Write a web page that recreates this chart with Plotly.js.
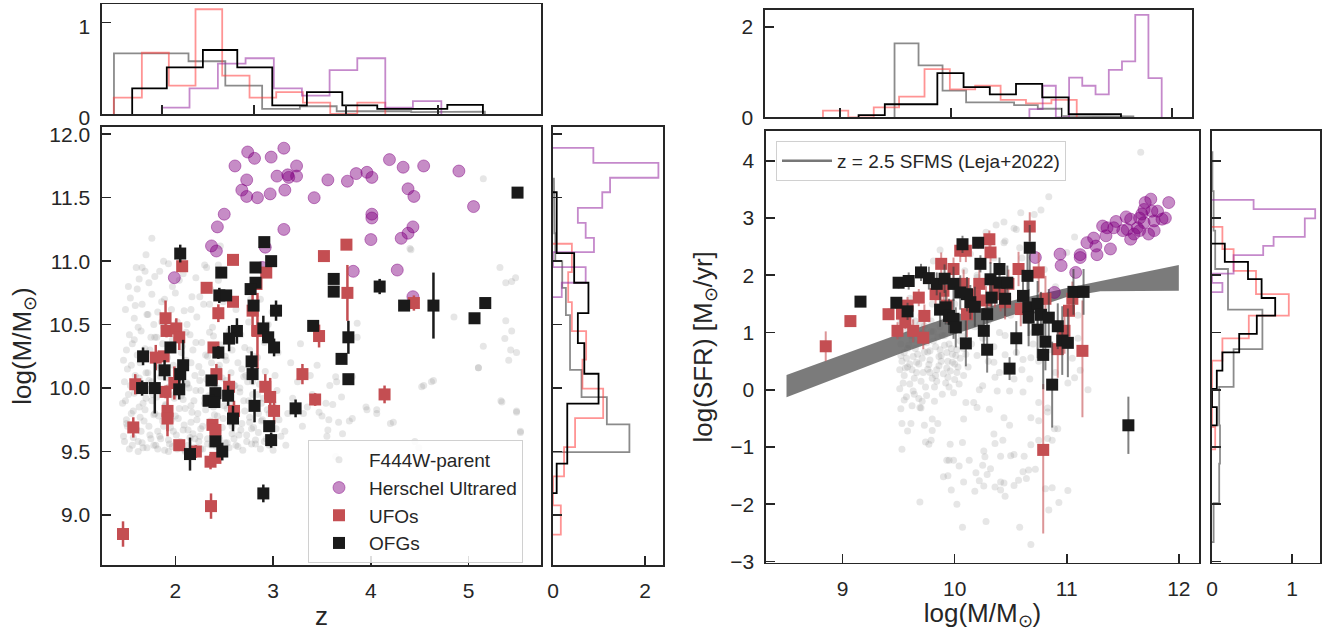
<!DOCTYPE html>
<html><head><meta charset="utf-8">
<script src="https://cdn.plot.ly/plotly-3.0.1.min.js"></script>
<style>html,body{margin:0;padding:0;background:#fff;}#chart{width:1338px;height:631px;}</style>
</head><body><div id="chart"></div>
<script>
// ---------- LEFT PANEL: redshift vs stellar mass ----------
// F444W-parent sample (z, logM)
const parentZ = [
1.47,1.50,1.46,1.52,1.48,1.55,1.50,1.53,1.58,1.49,1.56,1.60,1.57,1.59,1.47,1.54,1.58,1.51,
1.62,1.65,1.68,1.63,1.70,1.66,1.72,1.64,1.69,1.75,1.62,1.71,1.66,1.76,1.63,1.78,1.74,1.79,1.77,1.73,1.80,1.78,1.69,1.73,1.61,1.67,1.76,
1.82,1.85,1.88,1.83,1.90,1.86,1.93,1.84,1.91,1.87,1.95,1.82,1.89,1.97,1.84,1.94,1.98,1.96,1.99,1.92,1.98,1.96,1.81,1.88,1.93,1.86,
2.02,2.05,2.08,2.03,2.10,2.06,2.12,2.04,2.11,2.07,2.15,2.02,2.09,2.17,2.13,2.18,2.16,2.19,2.14,2.20,2.18,2.12,2.04,2.20,2.10,
2.22,2.25,2.28,2.23,2.30,2.26,2.32,2.24,2.31,2.27,2.35,2.22,2.29,2.36,2.33,2.38,2.36,2.39,2.34,2.40,2.37,2.21,2.30,2.38,2.26,
2.42,2.45,2.48,2.43,2.50,2.46,2.52,2.44,2.51,2.47,2.55,2.42,2.49,2.53,2.58,2.56,2.59,2.54,2.60,2.57,2.58,2.44,2.50,
2.62,2.65,2.68,2.63,2.70,2.66,2.72,2.64,2.71,2.67,2.75,2.73,2.78,2.76,2.79,2.74,2.80,2.62,2.77,
2.82,2.85,2.88,2.83,2.90,2.86,2.92,2.84,2.91,2.95,2.93,2.98,2.96,3.00,3.04,3.02,3.06,3.08,2.99,3.05,2.87,
3.12,3.15,3.20,3.25,3.30,3.35,3.40,3.45,3.50,3.55,3.18,3.28,3.38,3.58,3.13,
5.32,5.38,5.44,5.48,4.85,5.38,5.44,5.37,5.43,5.49,5.41,5.15,5.10,4.62,4.52,5.33,5.49,5.53,4.23,3.95,
4.06,3.86,3.86,3.81,3.64,3.81,3.65,3.54,3.61,3.70,3.57,3.67,3.56,3.71,3.47,3.31,4.40,4.45,5.15,4.41,
1.76,2.46,2.32,2.44,1.70,1.60,5.10,4.64,4.54,3.96,4.06,4.20,3.78,4.49,3.64,5.34,5.49,5.53,
1.48,1.53,1.57,1.62,1.66,1.71,1.75,1.80,1.84,1.89,1.93,1.97,2.01,2.06,2.10,2.15,2.19,2.24,2.28,2.33,2.37,2.42,2.46,2.51,2.55,2.60,2.64,2.69,2.73,2.78,2.82,2.87,2.91,2.96,3.00,
1.50,1.55,1.60,1.64,1.69,1.73,1.78,1.82,1.87,1.91,1.95,2.00,2.04,2.09,2.13,2.17,2.22,2.26,2.31,2.35,2.40,2.44,2.49,2.53,2.58,2.62,2.67,2.71,2.76,2.80,2.85,2.89,2.94,2.98,3.03,
1.49,1.54,1.58,1.63,1.67,1.72,1.76,1.81,1.85,1.90,1.94,1.99,2.03,2.08,2.12,2.16,2.21,2.25,2.30,2.34,2.39,2.43,2.48,2.52,2.57,2.61,2.66,2.70,2.75,2.79,2.84,2.88,2.93,2.97,
1.51,1.56,1.61,1.65,1.70,1.74,1.79,1.83,1.88,1.92,1.97,2.01,2.06,2.11,2.16,2.21,2.27,2.33,2.39,2.45,2.52,2.60,2.68,2.76,
1.52,1.59,1.66,1.72,1.79,1.86,1.93,2.00,2.08,2.16,2.25,2.35];
const parentM = [
9.62,9.75,9.88,9.95,10.05,10.18,10.30,10.42,10.55,10.62,9.55,9.68,9.82,10.10,10.22,10.71,10.38,9.70,
9.58,9.66,9.74,9.85,9.92,10.02,10.12,10.20,10.31,10.40,10.48,10.58,10.66,10.74,10.86,9.55,9.63,9.80,9.95,10.06,10.22,10.50,10.92,10.83,10.78,9.53,9.90,
9.52,9.60,9.70,9.78,9.86,9.97,10.08,10.16,10.27,10.35,10.46,10.60,10.70,10.80,10.92,9.56,9.66,9.75,9.92,10.00,10.18,10.62,10.40,11.00,9.50,10.52,
9.52,9.58,9.67,9.76,9.84,9.94,10.04,10.13,10.22,10.33,10.42,10.52,10.61,10.72,9.55,9.64,9.73,9.90,10.00,10.10,10.30,10.50,10.85,9.60,9.51,
9.53,9.62,9.70,9.80,9.88,9.98,10.07,10.17,10.26,10.36,10.44,10.56,10.66,10.78,9.56,9.65,9.74,9.85,9.94,10.03,10.20,10.87,10.97,10.48,9.52,
9.54,9.60,9.69,9.78,9.86,9.96,10.06,10.15,10.25,10.34,10.45,10.58,10.68,9.57,9.64,9.73,9.83,9.93,10.02,10.12,10.30,10.85,9.52,
9.55,9.63,9.72,9.81,9.90,10.00,10.10,10.20,10.32,10.42,10.52,9.58,9.68,9.77,9.95,10.05,10.25,10.62,10.70,
9.56,9.65,9.74,9.84,9.92,10.03,10.13,10.24,10.36,10.50,9.60,9.70,9.80,9.88,9.98,10.10,9.75,9.62,10.60,10.28,10.70,
9.66,9.80,9.92,10.05,9.70,9.85,9.95,10.18,9.78,9.62,10.20,10.35,10.10,10.02,9.55,
10.95,10.83,10.84,10.87,10.56,10.53,10.45,10.39,10.30,10.28,10.22,10.33,10.16,10.05,10.01,9.90,9.82,9.65,9.73,9.85,
9.83,10.51,10.40,9.76,10.09,10.09,10.05,9.88,9.87,9.93,9.75,9.73,9.67,9.64,9.81,9.80,11.10,9.58,11.65,11.09,
11.18,11.12,10.95,10.97,11.05,10.95,10.16,10.06,10.02,9.83,9.80,9.72,9.74,9.53,9.46,9.89,9.81,9.66,
9.58,9.52,9.61,9.50,9.57,9.53,9.60,9.55,9.62,9.51,9.59,9.54,9.63,9.56,9.50,9.61,9.53,9.58,9.52,9.60,9.55,9.62,9.50,9.57,9.53,9.60,9.54,9.51,9.63,9.56,9.59,9.52,9.58,9.55,9.51,
9.72,9.80,9.68,9.77,9.83,9.70,9.79,9.66,9.74,9.82,9.69,9.78,9.84,9.71,9.67,9.81,9.75,9.68,9.83,9.72,9.79,9.66,9.76,9.84,9.70,9.78,9.67,9.82,9.73,9.69,9.80,9.75,9.83,9.71,9.68,
9.90,10.02,9.96,10.08,9.88,9.99,10.05,9.93,10.09,9.87,10.01,9.95,10.07,9.91,10.03,9.86,9.98,10.06,9.92,10.04,9.89,10.00,10.08,9.94,9.87,10.02,9.97,10.09,9.90,10.05,9.95,9.88,10.01,9.93,
10.15,10.35,10.26,10.45,10.12,10.30,10.40,10.18,10.48,10.24,10.38,10.14,10.28,10.44,10.20,10.36,10.12,10.25,10.41,10.18,10.22,10.38,10.15,10.30,
10.80,10.65,10.95,10.58,10.88,10.68,10.98,10.75,10.90,10.62,10.72,10.66];

// Herschel ultrared: [z, logM]
const herschelLeft = [
[2.74,11.86],[2.81,11.81],[2.98,11.82],[3.11,11.89],[2.61,11.75],[3.24,11.75],[2.73,11.64],[3.04,11.67],
[3.15,11.68],[3.16,11.66],[3.24,11.67],[2.68,11.56],[2.73,11.51],[2.84,11.50],[2.97,11.53],[3.12,11.56],
[3.42,11.50],[3.56,11.64],[3.76,11.63],[3.85,11.69],[3.96,11.70],[4.01,11.66],[4.19,11.80],[4.33,11.74],
[4.54,11.75],[4.90,11.71],[4.38,11.57],[4.44,11.51],[5.05,11.43],[4.01,11.37],[4.01,11.34],[2.50,11.37],
[2.43,11.27],[3.11,11.25],[2.37,11.12],[2.42,11.08],[4.43,11.27],[4.38,11.22],[4.31,11.18],[4.00,11.17],
[1.99,10.87],[2.92,11.11],[2.89,10.95],[3.82,10.92],[4.27,10.93],[4.43,10.72]];

// UFOs: [z, logM, err]
const ufoLeft = [
[2.07,10.96,0.03],[2.59,11.01,0.03],[2.32,10.79,0.03],[2.59,10.68,0.03],[2.44,10.59,0.07],[1.90,10.55,0.14],
[1.91,10.45,0.05],[2.01,10.47,0.08],[2.04,10.40,0.10],[1.80,10.24,0.10],[1.88,10.25,0.03],[1.59,10.03,0.08],
[1.90,9.97,0.05],[1.99,10.04,0.13],[1.92,9.82,0.20],[1.92,9.76,0.10],[1.57,9.69,0.08],[2.04,9.55,0.03],
[2.21,9.50,0.05],[2.39,10.32,0.03],[2.42,10.11,0.08],[2.55,10.01,0.10],[2.38,9.71,0.03],[2.41,9.67,0.03],
[2.36,9.42,0.06],[2.41,9.45,0.03],[2.60,9.82,0.08],[2.79,10.61,0.20],[2.93,10.91,0.03],[2.83,10.82,0.03],
[2.92,10.01,0.10],[2.97,9.93,0.15],[3.01,9.82,0.10],[2.84,10.45,0.30],[3.75,11.13,0.03],[3.52,11.04,0.03],
[3.76,10.75,0.22],[3.47,10.41,0.09],[3.30,10.11,0.08],[3.43,9.91,0.05],[4.14,9.95,0.07],[4.44,10.67,0.06],
[1.465,8.85,0.10],[2.365,9.07,0.10]];

// OFGs: [z, logM, err]
const ofgLeft = [
[2.05,11.06,0.07],[2.91,11.15,0.03],[2.98,11.00,0.03],[2.82,10.95,0.03],[2.47,10.91,0.03],[2.82,10.83,0.03],
[2.77,10.78,0.03],[2.45,10.73,0.06],[2.52,10.73,0.03],[2.80,10.65,0.03],[3.03,10.61,0.08],[2.63,10.45,0.10],
[2.55,10.39,0.10],[2.90,10.47,0.10],[2.95,10.40,0.03],[3.01,10.32,0.07],[1.95,10.32,0.04],[2.44,10.28,0.05],
[1.67,10.25,0.07],[2.08,10.18,0.20],[1.89,10.14,0.08],[2.05,10.11,0.05],[2.78,10.21,0.08],[2.79,10.11,0.08],
[2.37,10.06,0.03],[1.66,10.00,0.06],[1.79,10.00,0.20],[2.04,9.99,0.08],[2.41,9.96,0.03],[2.34,9.90,0.03],
[2.40,9.89,0.03],[2.54,9.94,0.08],[2.81,9.86,0.13],[3.23,9.84,0.07],[2.59,9.76,0.10],[2.96,9.70,0.03],
[2.98,9.59,0.06],[2.41,9.58,0.03],[2.48,9.50,0.07],[2.15,9.48,0.13],[3.62,10.86,0.03],[3.62,10.76,0.03],
[4.09,10.80,0.06],[4.34,10.65,0.03],[4.64,10.65,0.26],[5.06,10.55,0.03],[5.17,10.67,0.03],[3.41,10.49,0.03],
[3.77,10.40,0.13],[3.70,10.23,0.03],[3.77,10.07,0.03],[5.50,11.54,0.03],[2.90,9.17,0.07]];

// ---------- RIGHT PANEL: stellar mass vs SFR ----------
const parentRight = [
[9.52,-0.33],[9.53,-0.59],[9.61,-0.59],[9.58,-0.72],[9.53,-1.04],[9.73,-0.62],[9.80,-0.71],[9.85,-0.59],[9.80,-0.51],[9.69,-0.31],
[9.74,-0.91],[9.77,-0.95],[9.96,-0.95],[10.07,-0.92],[9.93,-1.23],[9.99,-1.23],[10.04,-1.33],[10.13,-1.23],[10.19,-1.45],[10.25,-1.32],
[10.32,-1.38],[10.29,-1.48],[9.90,-1.52],[9.94,-1.50],[10.08,-1.61],[9.97,-1.75],[10.18,-1.77],[10.22,-1.59],[10.26,-1.68],[10.36,-1.70],
[10.41,-1.61],[10.44,-1.63],[10.41,-1.75],[10.45,-1.86],[10.53,-1.67],[10.57,-1.58],[10.61,-1.43],[10.66,-1.40],[10.72,-1.39],[10.64,-1.55],
[10.81,-1.73],[10.87,-1.71],[11.01,-1.76],[10.93,-1.97],[10.84,-2.10],[10.02,-2.00],[9.69,-1.96],[10.07,-2.40],[10.28,-2.30],[10.58,-2.40],
[10.68,-2.70],[10.35,-0.77],[10.43,-0.88],[10.36,-0.94],[10.26,-1.07],[10.27,-1.17],[10.41,-1.16],[10.50,-1.15],[10.53,-1.13],[10.62,-1.16],
[10.68,-0.96],[10.75,-0.88],[10.83,-0.85],[10.87,-0.88],[10.92,-0.68],[10.89,-0.68],[10.68,-0.49],[10.75,-0.54],[10.83,-0.39],[10.75,-0.22],
[10.83,-0.32],[10.49,-0.62],[10.44,-0.49],[10.31,-0.34],[10.20,-0.31],[10.17,-0.22],[10.10,-0.22],[9.99,-0.05],[10.08,-0.51],[10.22,0.00],
[10.25,0.07],[10.38,-0.02],[10.49,-0.02],[10.61,-0.04],[11.12,0.34],[11.19,0.00],[11.01,0.12],[11.07,0.21],[10.53,0.19],[10.67,0.19],
[10.35,0.48],[10.36,0.22],[10.45,0.61],[10.68,0.56],[10.61,0.53],[9.70,-0.32],[9.79,-0.88],[9.95,-1.23],
[9.50,0.95],[9.52,0.80],[9.55,0.65],[9.53,0.50],[9.58,0.40],[9.55,0.25],[9.60,0.10],[9.62,0.88],[9.65,0.72],[9.63,0.58],
[9.68,0.45],[9.66,0.30],[9.70,0.15],[9.72,1.00],[9.75,0.82],[9.73,0.66],[9.78,0.52],[9.76,0.36],[9.80,0.20],[9.82,0.05],
[9.85,0.92],[9.83,0.75],[9.88,0.60],[9.86,0.42],[9.90,0.28],[9.92,0.12],[9.95,0.80],[9.93,0.65],[9.98,0.48],[9.96,0.33],
[10.00,0.18],[10.02,0.70],[10.05,0.55],[10.03,0.40],[10.08,0.25],[10.10,0.62],[9.51,0.02],[9.57,-0.12],[9.64,-0.08],[9.71,-0.20],
[9.60,1.10],[9.69,1.15],[9.79,1.20],[9.87,1.10],[9.52,1.20],[9.58,0.72],[9.74,0.90],[9.91,0.95],[9.97,1.05],[10.06,0.95],
[9.62,0.35],[9.78,0.68],[9.84,0.35],[9.94,0.50],[10.12,0.40],[10.15,0.80],[10.20,0.60],[10.25,0.90],[10.30,0.50],[10.18,1.10],
[10.35,0.75],[10.40,0.30],[10.45,0.95],[10.55,0.65],[10.60,0.35],[10.70,0.80],[10.75,0.50],[10.85,0.70],[10.90,0.30],[10.95,0.90],
[11.05,0.55],[11.10,0.90],
[10.84,3.37],[10.77,3.14],[10.71,3.06],[10.59,3.09],[10.53,2.82],[10.44,2.93],[10.37,2.88],[10.28,2.75],[10.44,2.57],[10.58,2.48],
[11.07,2.67],[9.87,2.44],[9.81,2.25],[10.14,2.37],[10.09,2.08],[10.20,1.96],[11.66,4.15],[10.20,2.00],[10.30,1.20],[10.50,1.30],
[10.60,2.30],[10.70,1.00],[10.80,2.10],[10.90,1.80],[11.00,2.40],[11.10,1.30],[10.40,1.00],[10.00,1.50],[9.90,1.20],[9.80,1.50],
[9.70,1.30],[9.60,1.60],[10.45,2.60],[10.55,2.80],[10.35,2.30],
[9.54,0.12],[9.57,0.55],[9.61,0.95],[9.64,0.20],[9.67,0.62],[9.70,0.98],[9.74,0.05],[9.77,0.44],[9.81,0.85],[9.84,0.15],
[9.88,0.50],[9.91,0.78],[9.95,0.05],[9.98,0.62],[10.02,0.30],[10.05,0.85],[9.56,0.38],[9.59,0.78],[9.63,-0.02],[9.66,0.48],
[9.69,0.82],[9.72,0.30],[9.76,0.66],[9.79,1.02],[9.83,0.25],[9.86,0.58],[9.89,0.95],[9.93,0.38],[9.97,0.72],[10.00,0.45],
[10.04,0.10],[10.08,0.72],[9.55,-0.18],[9.62,-0.28],[9.68,-0.15],[9.75,-0.10],[9.82,-0.20],[9.89,-0.08],[9.58,1.05],[9.65,1.20],
[9.73,1.12],[9.81,1.02],[9.52,0.60],[9.51,0.35],[9.60,0.45],[9.71,0.55],[9.78,0.30],[9.87,0.70],[9.94,0.22],[10.01,0.60]];

const herschelRight = [
[10.94,2.37],[10.95,2.17],[10.72,2.31],[10.89,1.70],[11.08,2.05],[11.12,2.36],[11.12,2.31],[11.18,2.57],
[11.26,2.51],[11.27,2.36],[11.24,2.65],[11.32,2.86],[11.36,2.83],[11.39,2.46],[11.44,2.94],[11.53,3.02],
[11.54,2.80],[11.57,2.63],[11.60,2.72],[11.63,2.83],[11.65,3.00],[11.67,3.07],[11.69,2.92],[11.70,3.27],
[11.75,3.33],[11.76,3.12],[11.78,2.95],[11.81,3.12],[11.85,2.98],[11.88,3.00],[11.91,3.27],[11.73,2.72],
[11.65,2.78],[11.57,2.98],[11.50,2.78],[11.69,3.15],[11.78,2.78],[11.42,2.83],[11.35,2.69]];

// UFOs: [logM, logSFR, err+, err-]
const ufoRight = [
[8.85,0.76,0.26,0.26],[9.07,1.20,0.05,0.05],[9.41,1.32,0.10,0.10],[9.49,1.03,0.15,0.15],[9.56,1.18,0.12,0.12],
[9.58,1.47,0.15,0.15],[9.68,1.61,0.15,0.15],[9.73,1.29,0.20,0.20],[9.72,0.91,0.20,0.20],[9.88,2.20,0.20,0.20],
[9.83,1.67,0.20,0.20],[9.90,1.73,0.25,0.25],[9.99,2.11,0.20,0.20],[9.93,1.47,0.30,0.30],[10.05,2.43,0.20,0.20],
[10.10,2.43,0.20,0.20],[10.08,1.85,0.25,0.25],[10.11,1.32,0.40,0.40],[10.31,2.63,0.15,0.15],[10.32,2.40,0.20,0.20],
[10.28,1.56,0.25,0.25],[10.41,1.67,0.30,0.30],[10.48,1.85,0.25,0.25],[10.45,1.53,0.30,0.30],[10.57,2.11,0.30,0.30],
[10.67,2.85,0.25,0.25],[10.75,2.05,0.35,0.35],[10.59,1.41,0.30,0.30],[10.81,1.59,0.40,0.40],[10.92,0.71,0.50,0.50],
[10.98,1.03,0.40,0.40],[11.02,1.38,0.30,0.30],[11.05,1.59,0.30,0.30],[11.14,0.68,0.88,1.16],[10.79,-1.05,1.15,1.46],
[10.18,1.65,0.30,0.30],[10.36,1.74,0.30,0.30],[10.22,1.85,0.25,0.25],[9.53,1.33,0.15,0.15],[9.63,1.03,0.20,0.20]];

// OFGs: [logM, logSFR, err]
const ofgRight = [
[9.16,1.54,0.05],[9.50,1.87,0.10],[9.59,1.90,0.15],[9.48,1.52,0.10],[9.58,1.37,0.15],[9.70,2.05,0.15],
[9.77,1.95,0.20],[9.84,1.85,0.20],[9.91,1.94,0.25],[9.99,1.85,0.30],[9.87,1.40,0.30],[9.92,1.44,0.30],
[9.95,1.29,0.30],[9.99,1.24,0.35],[10.01,1.09,0.35],[10.07,2.54,0.15],[10.21,2.57,0.10],[10.23,2.20,0.15],
[10.05,1.70,0.30],[10.11,1.67,0.30],[10.14,1.53,0.30],[10.18,1.45,0.35],[10.29,1.32,0.30],[10.26,1.03,0.40],
[10.10,0.81,0.40],[10.29,0.70,0.40],[10.40,2.11,0.20],[10.32,1.93,0.30],[10.40,1.87,0.30],[10.47,1.87,0.30],
[10.33,1.61,0.30],[10.45,1.59,0.30],[10.67,2.48,0.40],[10.65,1.99,0.50],[10.61,1.64,0.30],[10.66,1.44,0.50],
[10.66,1.26,0.50],[10.74,1.50,0.40],[10.77,1.31,0.40],[10.84,1.26,0.50],[10.74,1.05,0.50],[10.92,1.11,0.40],
[10.55,0.90,0.30],[10.81,0.84,0.50],[10.96,0.86,0.60],[11.01,0.82,0.60],[10.79,0.61,0.60],[10.49,0.37,0.20],
[10.87,0.09,0.75],[11.06,1.71,0.40],[11.15,1.71,0.40],[11.55,-0.62,0.50]];

// z = 2.5 star-forming main sequence band (Leja+2022)
const sfmsMass = [8.5, 9.0, 9.5, 10.0, 10.5, 11.0, 11.3, 11.5, 12.0];
const sfmsHi   = [0.26, 0.61, 0.97, 1.30, 1.55, 1.78, 1.90, 1.98, 2.18];
const sfmsLo   = [-0.13, 0.24, 0.62, 0.97, 1.30, 1.62, 1.72, 1.72, 1.73];

// ---------- Histograms (bin edges, normalized heights) ----------
const hzParEdges = [1.48,1.88,2.29,2.69,3.09,3.50,3.90,4.30,4.71,5.11,5.51];
const hzPar      = [0.664,0.664,0.577,0.31,0.055,0.085,0.03,0.03,0.02,0.025];
const hzUfoEdges = [1.478,1.783,2.076,2.366,2.656,2.953,3.243,3.533,3.830,4.124,4.428];
const hzUfo      = [0.18,0.67,0.31,1.146,0.42,0.18,0.24,0.124,0,0.124];
const hzOfgEdges = [1.678,2.054,2.446,2.820,3.200,3.576,3.961,4.341,4.728,5.102,5.489];
const hzOfg      = [0.28,0.51,0.70,0.51,0.095,0.24,0.095,0.055,0.055,0.10];
const hzHerEdges = [2.000,2.301,2.609,2.910,3.217,3.522,3.823,4.124,4.428,4.728,5.037];
const hzHer      = [0.07,0.28,0.55,0.61,0.28,0.20,0.48,0.61,0.07,0.14];

const hmParEdges = [9.496,9.714,9.929,10.144,10.36,10.575,10.79,11.0,11.22,11.44,11.65];
const hmPar      = [1.66,1.17,0.62,0.37,0.37,0.28,0.20,0.05,0.03,0.02];
const hmUfoEdges = [8.846,9.076,9.305,9.535,9.764,9.995,10.224,10.449,10.677,10.913,11.137];
const hmUfo      = [0.17,0,0.24,0.48,1.09,0.64,0.72,0.41,0.33,0.41];
const hmOfgEdges = [9.173,9.405,9.641,9.877,10.113,10.354,10.591,10.830,11.063,11.299,11.543];
const hmOfg      = [0.08,0.31,0.31,0.99,0.68,0.54,0.77,0.46,0.08,0.08];
const hmHerEdges = [10.717,10.830,10.953,11.071,11.184,11.302,11.420,11.543,11.657,11.775,11.893];
const hmHer      = [0.19,0.71,0,0.89,0.71,0.54,1.07,1.24,2.29,0.877];

const hMParEdges = [9.491,9.708,9.925,10.138,10.355,10.572,10.786,11.003,11.219,11.433,11.650];
const hMPar      = [1.64,1.15,0.59,0.33,0.33,0.27,0.19,0.03,0.02,0.02];
const hMUfoEdges = [8.844,9.073,9.303,9.532,9.762,9.991,10.220,10.450,10.679,10.909,11.138];
const hMUfo      = [0.15,0,0.22,0.46,1.07,0.62,0.70,0.385,0.31,0.385];
const hMOfgEdges = [9.166,9.403,9.640,9.878,10.115,10.352,10.589,10.826,11.064,11.301,11.538];
const hMOfg      = [0.05,0.29,0.29,0.98,0.67,0.51,0.74,0.44,0.07,0.07];
const hMHerEdges = [10.710,10.830,10.949,11.069,11.188,11.308,11.428,11.547,11.667,11.786,11.906];
const hMHer      = [0.18,0.70,0,0.88,0.70,0.51,1.05,1.24,2.27,0.87];

const hSParEdges = [-2.66,-1.98,-1.29,-0.62,0.05,0.71,1.40,2.11,2.78,3.47,4.15];
const hSPar      = [0.02,0.09,0.10,0.09,0.27,0.63,0.20,0.04,0.02,0.005];
const hSUfoEdges = [-1.04,-0.65,-0.27,0.12,0.510,0.899,1.294,1.672,2.078,2.456,2.845];
const hSUfo      = [0.04,0,0,0,0.13,0.46,0.96,0.55,0.27,0.13];
const hSOfgEdges = [-0.622,-0.303,0.017,0.336,0.655,0.976,1.294,1.603,1.934,2.235,2.554];
const hSOfg      = [0.06,0,0.06,0.13,0.34,0.56,0.79,0.62,0.45,0.16];
const hSHerEdges = [1.707,1.868,2.029,2.190,2.351,2.512,2.672,2.833,2.994,3.155,3.316];
const hSHer      = [0.13,0,0.27,0.27,0.64,0.77,1.16,1.16,1.29,0.52];

// ---------- styling ----------
const FONT = 'Liberation Sans, Arial, sans-serif';
const INK = '#262626';
const C_PAR = 'rgba(128,128,128,0.2)';
const C_HER = 'rgba(128,0,128,0.45)';
const C_UFO = '#c44e52';
const C_OFG = '#1a1a1a';
const H_PAR = 'rgba(110,110,110,0.8)';
const H_UFO = 'rgba(255,60,60,0.55)';
const H_HER = 'rgba(150,40,160,0.55)';
const H_OFG = '#000000';

function outline(edges, h){
  const a=[edges[0]], b=[0];
  for(let i=0;i<h.length;i++){ a.push(edges[i], edges[i+1]); b.push(h[i], h[i]); }
  a.push(edges[edges.length-1]); b.push(0);
  return [a,b];
}
function histX(edges,h,color,xa,ya){ const [a,b]=outline(edges,h);
  return {x:a,y:b,xaxis:xa,yaxis:ya,mode:'lines',line:{color:color,width:1.8},showlegend:false,hoverinfo:'skip'}; }
function histY(edges,h,color,xa,ya){ const [a,b]=outline(edges,h);
  return {x:b,y:a,xaxis:xa,yaxis:ya,mode:'lines',line:{color:color,width:1.8},showlegend:false,hoverinfo:'skip'}; }
const col=(arr,i)=>arr.map(r=>r[i]);

const traces = [];
// left main
traces.push({x:parentZ,y:parentM,xaxis:'x',yaxis:'y',mode:'markers',name:'F444W-parent',
  marker:{color:C_PAR,size:7,line:{width:0}},hoverinfo:'skip',legend:'legend'});
traces.push({x:col(herschelLeft,0),y:col(herschelLeft,1),xaxis:'x',yaxis:'y',mode:'markers',name:'Herschel Ultrared',
  marker:{color:C_HER,size:12,line:{width:1,color:C_HER}},hoverinfo:'skip',legend:'legend'});
traces.push({x:col(ufoLeft,0),y:col(ufoLeft,1),xaxis:'x',yaxis:'y',mode:'markers',name:'UFOs',
  error_y:{type:'data',array:col(ufoLeft,2),visible:true,color:C_UFO,thickness:2.5,width:0},
  marker:{color:C_UFO,symbol:'square',size:12,line:{width:0}},hoverinfo:'skip',legend:'legend'});
traces.push({x:col(ofgLeft,0),y:col(ofgLeft,1),xaxis:'x',yaxis:'y',mode:'markers',name:'OFGs',
  error_y:{type:'data',array:col(ofgLeft,2),visible:true,color:C_OFG,thickness:2.5,width:0},
  marker:{color:C_OFG,symbol:'square',size:12,line:{width:0}},hoverinfo:'skip',legend:'legend'});
// left top hist
traces.push(histX(hzParEdges,hzPar,H_PAR,'x2','y2'));
traces.push(histX(hzUfoEdges,hzUfo,H_UFO,'x2','y2'));
traces.push(histX(hzHerEdges,hzHer,H_HER,'x2','y2'));
traces.push(histX(hzOfgEdges,hzOfg,H_OFG,'x2','y2'));
// left right hist
traces.push(histY(hmParEdges,hmPar,H_PAR,'x3','y3'));
traces.push(histY(hmUfoEdges,hmUfo,H_UFO,'x3','y3'));
traces.push(histY(hmHerEdges,hmHer,H_HER,'x3','y3'));
traces.push(histY(hmOfgEdges,hmOfg,H_OFG,'x3','y3'));
// right main
traces.push({x:col(parentRight,0),y:col(parentRight,1),xaxis:'x4',yaxis:'y4',mode:'markers',showlegend:false,
  marker:{color:C_PAR,size:7,line:{width:0}},hoverinfo:'skip'});
traces.push({x:sfmsMass.concat(sfmsMass.slice().reverse()),y:sfmsHi.concat(sfmsLo.slice().reverse()),
  xaxis:'x4',yaxis:'y4',mode:'lines',fill:'toself',fillcolor:'rgba(100,100,100,0.85)',line:{width:0,color:'rgba(0,0,0,0)'},
  showlegend:false,hoverinfo:'skip'});
traces.push({x:[null],y:[null],xaxis:'x4',yaxis:'y4',mode:'lines',name:'z = 2.5 SFMS (Leja+2022)',
  line:{color:'#777777',width:2.5},legend:'legend2',hoverinfo:'skip'});
traces.push({x:col(herschelRight,0),y:col(herschelRight,1),xaxis:'x4',yaxis:'y4',mode:'markers',showlegend:false,
  marker:{color:C_HER,size:12,line:{width:1,color:C_HER}},hoverinfo:'skip'});
traces.push({x:col(ufoRight,0),y:col(ufoRight,1),xaxis:'x4',yaxis:'y4',mode:'markers',showlegend:false,
  error_y:{type:'data',symmetric:false,array:col(ufoRight,2),arrayminus:col(ufoRight,3),visible:true,color:'rgba(196,78,82,0.6)',thickness:2,width:0},
  marker:{color:C_UFO,symbol:'square',size:12,line:{width:0}},hoverinfo:'skip'});
traces.push({x:col(ofgRight,0),y:col(ofgRight,1),xaxis:'x4',yaxis:'y4',mode:'markers',showlegend:false,
  error_y:{type:'data',array:col(ofgRight,2),visible:true,color:'rgba(60,60,60,0.65)',thickness:2,width:0},
  marker:{color:C_OFG,symbol:'square',size:12,line:{width:0}},hoverinfo:'skip'});
// right top hist
traces.push(histX(hMParEdges,hMPar,H_PAR,'x5','y5'));
traces.push(histX(hMUfoEdges,hMUfo,H_UFO,'x5','y5'));
traces.push(histX(hMHerEdges,hMHer,H_HER,'x5','y5'));
traces.push(histX(hMOfgEdges,hMOfg,H_OFG,'x5','y5'));
// right right hist
traces.push(histY(hSParEdges,hSPar,H_PAR,'x6','y6'));
traces.push(histY(hSUfoEdges,hSUfo,H_UFO,'x6','y6'));
traces.push(histY(hSHerEdges,hSHer,H_HER,'x6','y6'));
traces.push(histY(hSOfgEdges,hSOfg,H_OFG,'x6','y6'));

function ax(extra){
  return Object.assign({showline:true,linecolor:INK,linewidth:1.6,mirror:true,ticks:'inside',ticklen:9,tickwidth:1.6,
    tickcolor:INK,showgrid:false,zeroline:false,automargin:false,ticklabelstandoff:6,
    tickfont:{family:FONT,size:21,color:INK}},extra);
}
const TF = {family:FONT,size:26,color:INK};
const Wp=1338, Hp=631;
const dx=(a,b)=>[a/Wp,b/Wp], dy=(top,bot)=>[1-bot/Hp,1-top/Hp];

const layout = {
  width:Wp,height:Hp,margin:{l:0,r:0,t:0,b:0},paper_bgcolor:'#fff',plot_bgcolor:'rgba(0,0,0,0)',
  font:{family:FONT,color:INK},
  xaxis: ax({domain:dx(102,541),range:[1.25,5.74],anchor:'y',tickvals:[2,3,4,5],title:{text:'z',font:TF,standoff:6}}),
  yaxis: ax({domain:dy(127,565),range:[8.606,12.057],anchor:'x',tickvals:[9,9.5,10,10.5,11,11.5,12],tickformat:'.1f',
          title:{text:'log(M/M<sub>⊙</sub>)',font:TF,standoff:10}}),
  xaxis2: ax({domain:dx(102,541),range:[1.35,6.12],anchor:'y2',tickvals:[2,3,4,5],showticklabels:false}),
  yaxis2: ax({domain:dy(4.3,114),range:[0,1.2],anchor:'x2',tickvals:[0,1],ticklabelshift:4}),
  xaxis3: ax({domain:dx(553,663),range:[0,2.39],anchor:'y3',tickvals:[0,2]}),
  yaxis3: ax({domain:dy(127,565),range:[8.606,12.057],anchor:'x3',tickvals:[9,9.5,10,10.5,11,11.5,12],showticklabels:false}),
  xaxis4: ax({domain:dx(766,1199),range:[8.317,12.18],anchor:'y4',tickvals:[9,10,11,12],
          title:{text:'log(M/M<sub>⊙</sub>)',font:TF,standoff:8}}),
  yaxis4: ax({domain:dy(131,562.7),range:[-3.02,4.52],anchor:'x4',tickvals:[-3,-2,-1,0,1,2,3,4],
          title:{text:'log(SFR) [M<sub>⊙</sub>/yr]',font:TF,standoff:10}}),
  xaxis5: ax({domain:dx(765,1192),range:[8.32,12.18],anchor:'y5',tickvals:[9,10,11,12],showticklabels:false}),
  yaxis5: ax({domain:dy(10,117.3),range:[0,2.38],anchor:'x5',tickvals:[0,2]}),
  xaxis6: ax({domain:dx(1212,1320),range:[0,1.35],anchor:'y6',tickvals:[0,1]}),
  yaxis6: ax({domain:dy(131,562.7),range:[-3.02,4.52],anchor:'x6',tickvals:[-3,-2,-1,0,1,2,3,4],showticklabels:false}),
  legend:{x:308/Wp,y:1-440/Hp,xanchor:'left',yanchor:'top',bgcolor:'rgba(255,255,255,0.85)',bordercolor:'#d0d0d0',borderwidth:1,
    font:{family:FONT,size:19,color:INK},itemwidth:50,traceorder:'normal'},
  legend2:{x:776/Wp,y:1-141/Hp,xanchor:'left',yanchor:'top',bgcolor:'rgba(255,255,255,0.85)',bordercolor:'#d0d0d0',borderwidth:1,
    font:{family:FONT,size:19,color:INK},itemwidth:50},
  showlegend:true
};
Plotly.newPlot('chart',traces,layout,{displayModeBar:false,staticPlot:true});
</script></body></html>
